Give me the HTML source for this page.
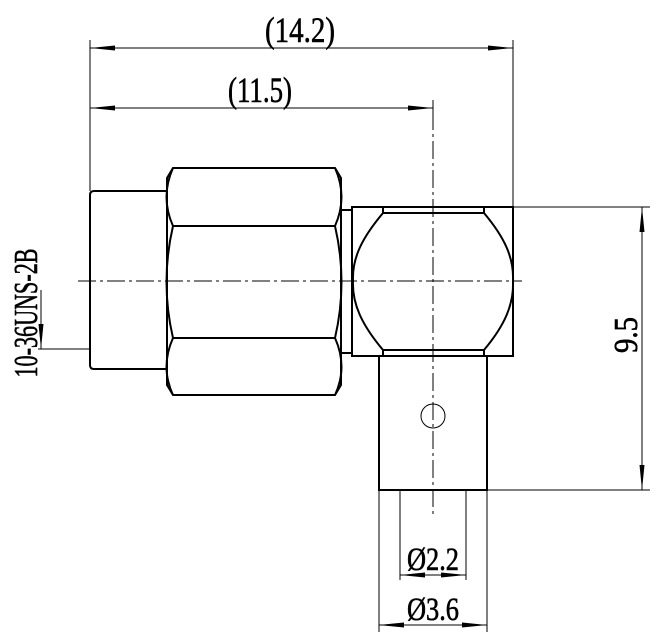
<!DOCTYPE html>
<html><head><meta charset="utf-8"><style>
html,body{margin:0;padding:0;background:#fff;}
svg{display:block}
text{font-family:"Liberation Serif",serif;fill:#000;stroke:#000;stroke-width:0.6}
</style></head><body>
<svg width="660" height="643" viewBox="0 0 660 643" xmlns="http://www.w3.org/2000/svg">
<g stroke="#000" fill="none" stroke-width="1">
<line x1="90" y1="40" x2="90" y2="191"/>
<line x1="513" y1="40" x2="513" y2="207"/>
<line x1="433" y1="100" x2="433" y2="112"/>
<line x1="90" y1="48" x2="513" y2="48"/>
<line x1="90" y1="108" x2="433" y2="108"/>
<line x1="513" y1="207" x2="650" y2="207"/>
<line x1="487" y1="490" x2="650" y2="490"/>
<line x1="642" y1="207" x2="642" y2="490"/>
<line x1="400" y1="490" x2="400" y2="580"/>
<line x1="466" y1="490" x2="466" y2="580"/>
<line x1="379" y1="490" x2="379" y2="632"/>
<line x1="487" y1="490" x2="487" y2="632"/>
<line x1="400" y1="575" x2="466" y2="575"/>
<line x1="379" y1="625" x2="487" y2="625"/>
<line x1="41" y1="290" x2="41" y2="349"/>
<line x1="38" y1="349" x2="90" y2="349"/>
</g>
<g fill="#000">
<polygon points="90,48 115,45.5 115,50.5"/>
<polygon points="513,48 488,45.5 488,50.5"/>
<polygon points="90,108 115,105.5 115,110.5"/>
<polygon points="433,108 408,105.5 408,110.5"/>
<polygon points="642,207 639.5,232 644.5,232"/>
<polygon points="642,490 639.5,465 644.5,465"/>
<polygon points="400,575 425,572.5 425,577.5"/>
<polygon points="466,575 441,572.5 441,577.5"/>
<polygon points="379,625 404,622.5 404,627.5"/>
<polygon points="487,625 462,622.5 462,627.5"/>
<polygon points="41,349 38.5,324 43.5,324"/>
</g>
<g stroke="#000" fill="none" stroke-width="2">
<path d="M167,191 L94,191 Q90,191 90,195 L90,365 Q90,369 94,369 L167,369"/>
<path d="M173,168 L335,168 L341,178 L341,385 L335,395 L173,395 L167,385 L167,178 Z"/>
<line x1="173" y1="226" x2="335" y2="226"/>
<line x1="173" y1="338" x2="335" y2="338"/>
<path d="M173,168 Q160,197 173,226 Q160,282 173,338 Q160,367 173,395"/>
<path d="M335,168 Q348,197 335,226 Q348,282 335,338 Q348,367 335,395"/>
<rect x="341" y="210" width="11" height="143"/>
<rect x="352" y="207" width="161" height="149"/>
<path d="M383,213 L484,213 C505,238 514,258 513,281 C514,304 505,325 484,350 L383,350 C362,325 352,304 353,281 C352,258 362,238 383,213 Z"/>
<line x1="383" y1="207" x2="383" y2="213"/>
<line x1="484" y1="207" x2="484" y2="213"/>
<line x1="383" y1="350" x2="383" y2="356"/>
<line x1="484" y1="350" x2="484" y2="356"/>
<rect x="379" y="356" width="108" height="134"/>
</g>
<circle cx="433" cy="416" r="12" stroke="#000" fill="none" stroke-width="1"/>
<g stroke="#000" stroke-width="1" stroke-dasharray="18,4,3,4">
<line x1="78" y1="281" x2="522" y2="281"/>
<line x1="433" y1="112" x2="433" y2="515"/>
</g>
<text x="300" y="42" font-size="36" text-anchor="middle" textLength="70" lengthAdjust="spacingAndGlyphs">(14.2)</text>
<text x="260" y="102" font-size="36" text-anchor="middle" textLength="64" lengthAdjust="spacingAndGlyphs">(11.5)</text>
<text x="433" y="570" font-size="33" text-anchor="middle" textLength="52" lengthAdjust="spacingAndGlyphs">Ø2.2</text>
<text x="433" y="620" font-size="33" text-anchor="middle" textLength="52" lengthAdjust="spacingAndGlyphs">Ø3.6</text>
<text transform="translate(637,335) rotate(-90)" font-size="34" text-anchor="middle" textLength="36" lengthAdjust="spacingAndGlyphs">9.5</text>
<text transform="translate(37,313) rotate(-90)" font-size="34" text-anchor="middle" textLength="129" lengthAdjust="spacingAndGlyphs">10-36UNS-2B</text>
</svg>
</body></html>
